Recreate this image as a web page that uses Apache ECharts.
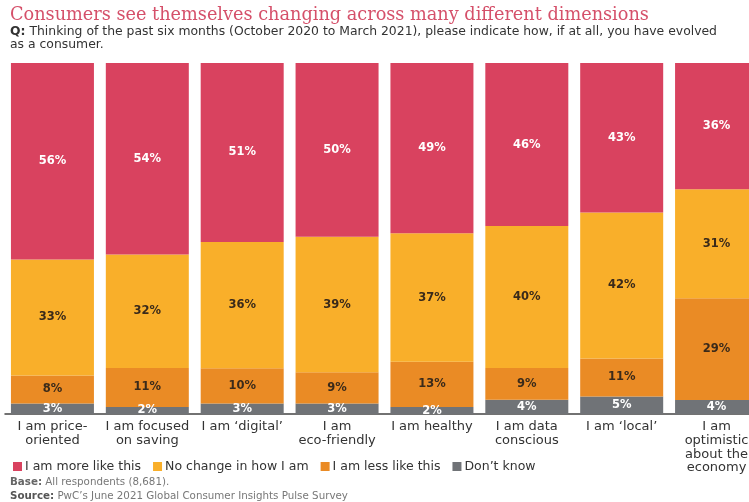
<!DOCTYPE html>
<html>
<head>
<meta charset="utf-8">
<script src="https://cdn.jsdelivr.net/npm/echarts@6/dist/echarts.min.js"></script>
<style>
html,body{margin:0;padding:0;background:#fff;}
#chart{width:749px;height:502px;}
</style>
</head>
<body>
<div id="chart"></div>
<script>
const categories = ["I am price-\noriented", "I am focused\non saving", "I am \u2018digital\u2019", "I am\neco-friendly", "I am healthy", "I am data\nconscious", "I am \u2018local\u2019", "I am\noptimistic\nabout the\neconomy"];
const moreLikeThis = [56, 54, 51, 50, 49, 46, 43, 36];
const noChange = [33, 32, 36, 39, 37, 40, 42, 31];
const lessLikeThis = [8, 11, 10, 9, 13, 9, 11, 29];
const dontKnow = [3, 2, 3, 3, 2, 4, 5, 4];
const seriesNames = ["I am more like this", "No change in how I am", "I am less like this", "Don\u2019t know"];

const totals = categories.map((c, i) => moreLikeThis[i] + noChange[i] + lessLikeThis[i] + dontKnow[i]);
const norm = arr => arr.map((v, i) => ({ value: v / totals[i] * 100, raw: v }));

const SANS = 'DejaVu Sans, Liberation Sans, Arial, sans-serif';
const chart = echarts.init(document.getElementById('chart'), null, { renderer: 'canvas' });
const lbl = (color) => ({
  show: true, position: 'inside', color: color, fontSize: 11.5, fontWeight: 'bold',
  fontFamily: SANS,
  formatter: p => p.data.raw + '%'
});
const mk = (name, arr, color, labelColor) => ({
  name, type: 'bar', stack: 'all', data: norm(arr), barWidth: 83,
  itemStyle: { color }, label: lbl(labelColor)
});

chart.setOption({
  animation: false,
  textStyle: { fontFamily: SANS },
  title: [
    { text: 'Consumers see themselves changing across many different dimensions', left: 10, top: 6, padding: 0,
      textStyle: { fontFamily: 'DejaVu Serif, Liberation Serif, serif', fontSize: 17.7, fontWeight: 'normal', color: '#D5506A' } },
    { text: '{b|Q:} Thinking of the past six months (October 2020 to March 2021), please indicate how, if at all, you have evolved\nas a consumer.',
      left: 10, top: 25, padding: 0,
      textStyle: { fontSize: 12.4, fontWeight: 'normal', color: '#333', lineHeight: 13.5, fontFamily: SANS,
        rich: { b: { fontWeight: 'bold', fontSize: 12.4, color: '#333', fontFamily: SANS, lineHeight: 13.5 } } } },
    { text: '{b|Base:} All respondents (8,681).', left: 10, top: 477, padding: 0,
      textStyle: { fontSize: 10.3, fontWeight: 'normal', color: '#777', fontFamily: SANS, rich: { b: { fontWeight: 'bold', fontSize: 10.3, color: '#666', fontFamily: SANS } } } },
    { text: '{b|Source:} PwC\u2019s June 2021 Global Consumer Insights Pulse Survey', left: 10, top: 491, padding: 0,
      textStyle: { fontSize: 10.3, fontWeight: 'normal', color: '#777', fontFamily: SANS, rich: { b: { fontWeight: 'bold', fontSize: 10.3, color: '#555', fontFamily: SANS } } } }
  ],
  legend: {
    data: seriesNames, left: 8, top: 455, icon: 'rect', itemWidth: 9, itemHeight: 9, itemGap: 12,
    textStyle: { fontSize: 12.5, color: '#333', fontFamily: SANS, padding: [0, 0, 0, -2] }
  },
  grid: { left: 5, width: 759, top: 63, bottom: 88, containLabel: false, outerBoundsMode: 'none' },
  xAxis: {
    type: 'category', data: categories,
    axisLine: { lineStyle: { color: '#444', width: 1.5 } },
    axisTick: { show: false },
    axisLabel: { interval: 0, fontSize: 13, color: '#333', lineHeight: 13.7, margin: 6, fontFamily: SANS }
  },
  yAxis: { type: 'value', min: 0, max: 100, show: false, splitLine: { show: false } },
  series: [
    mk(seriesNames[3], dontKnow, '#707377', '#fff'),
    mk(seriesNames[2], lessLikeThis, '#EA8B25', '#3a2a1a'),
    mk(seriesNames[1], noChange, '#F9AF2A', '#3a2a1a'),
    mk(seriesNames[0], moreLikeThis, '#D9425F', '#fff')
  ]
});
</script>
</body>
</html>
